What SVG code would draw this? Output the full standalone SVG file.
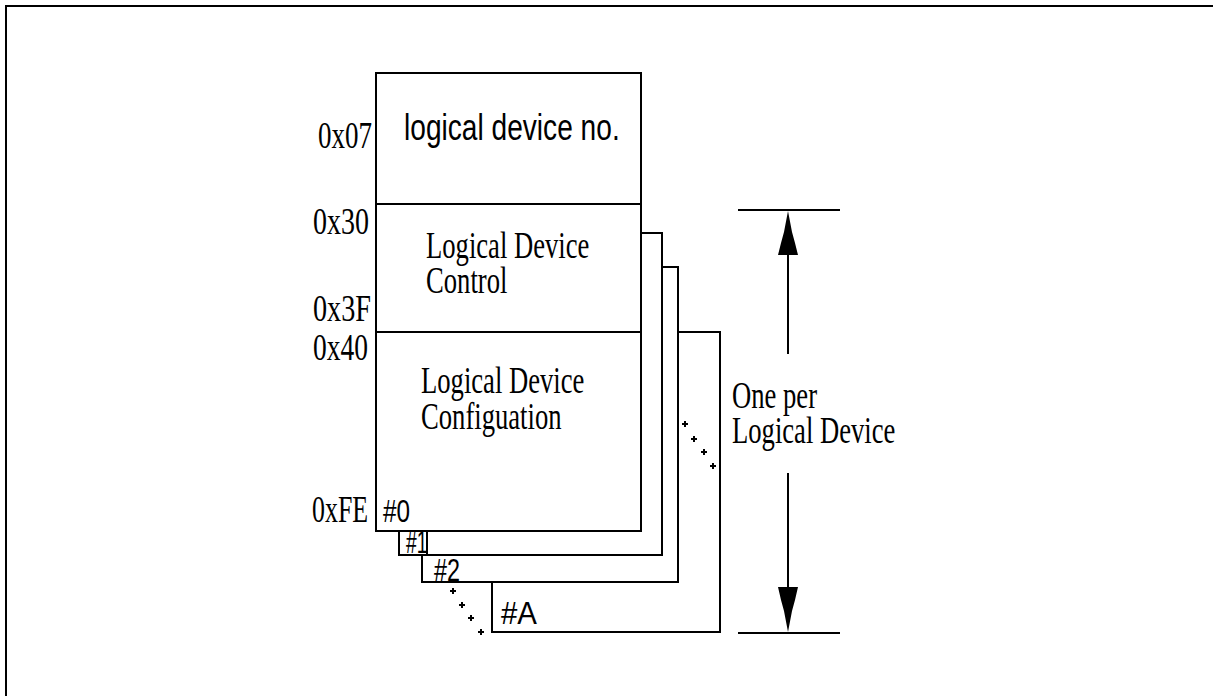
<svg xmlns="http://www.w3.org/2000/svg" width="1214" height="696" viewBox="0 0 1214 696">
<style>
.box{fill:#fff;stroke:#000;stroke-width:2}
.ln{stroke:#000;stroke-width:2;fill:none}
.ser{font-family:"Liberation Serif","Times New Roman",serif;font-size:37px;fill:#000}
.san{font-family:"Liberation Sans",Arial,sans-serif;font-size:37px;fill:#000}
.num{font-family:"Liberation Sans",Arial,sans-serif;font-size:32px;fill:#000}
.dot{stroke:#000;stroke-width:2;fill:none}
</style>
<defs>
<path id="d" d="M-3,0 H3 M0,-3 V3"/>
</defs>
<g id="frame">
<line class="ln" x1="6" y1="5" x2="6" y2="696"/>
<line class="ln" x1="5" y1="6" x2="1213" y2="6"/>
</g>
<g id="boxA">
<rect class="box" x="492" y="332" width="228" height="300"/>
<text class="num" transform="translate(501,624) scale(0.92,1)">#A</text>
</g>
<g id="box2">
<rect class="box" x="422" y="267" width="256" height="315"/>
<text class="num" transform="translate(434,581) scale(0.73,1)">#2</text>
</g>
<g id="box1">
<rect class="box" x="399" y="233" width="263" height="322"/>
<text class="num" transform="translate(406,553) scale(0.6,1)">#1</text>
<line class="ln" x1="427" y1="531" x2="427" y2="555"/>
</g>
<g id="box0">
<rect class="box" x="376" y="73" width="265" height="458"/>
<line class="ln" x1="376" y1="204" x2="641" y2="204"/>
<line class="ln" x1="376" y1="332" x2="641" y2="332"/>
<text class="san" transform="translate(404,140) scale(0.76,1)">logical device no.</text>
<text class="ser" transform="translate(426,258) scale(0.72,1)"><tspan x="0" y="0">Logical Device</tspan><tspan x="0" y="35">Control</tspan></text>
<text class="ser" transform="translate(421,393) scale(0.72,1)"><tspan x="0" y="0">Logical Device</tspan><tspan x="0" y="36">Configuation</tspan></text>
<text class="num" transform="translate(383,522) scale(0.76,1)">#0</text>
</g>
<g id="labels">
<text class="ser" transform="translate(318,148) scale(0.73,1)">0x07</text>
<text class="ser" transform="translate(313,234) scale(0.757,1)">0x30</text>
<text class="ser" transform="translate(313,321) scale(0.763,1)">0x3F</text>
<text class="ser" transform="translate(313,360) scale(0.743,1)">0x40</text>
<text class="ser" transform="translate(312,522) scale(0.70,1)">0xFE</text>
</g>
<g id="dots">
<use href="#d" class="dot" x="453" y="591"/>
<use href="#d" class="dot" x="462" y="605"/>
<use href="#d" class="dot" x="471" y="618"/>
<use href="#d" class="dot" x="481" y="632"/>
<use href="#d" class="dot" x="685" y="424"/>
<use href="#d" class="dot" x="694" y="439"/>
<use href="#d" class="dot" x="704" y="452"/>
<use href="#d" class="dot" x="713" y="466"/>
</g>
<g id="connectors">
<line class="ln" x1="738" y1="210" x2="840" y2="210"/>
<line class="ln" x1="738" y1="633" x2="840" y2="633"/>
<line class="ln" x1="788" y1="250" x2="788" y2="354"/>
<line class="ln" x1="788" y1="473" x2="788" y2="592"/>
<polygon points="788,211 792,232 795,243 798,255 778,255 781,243 784,232" fill="#000"/>
<polygon points="788,632 792,611 795,600 798,587 778,587 781,600 784,611" fill="#000"/>
</g>
<g id="dimlabel">
<text class="ser" transform="translate(732,408) scale(0.72,1)"><tspan x="0" y="0">One per</tspan><tspan x="0" y="35">Logical Device</tspan></text>
</g>
</svg>
